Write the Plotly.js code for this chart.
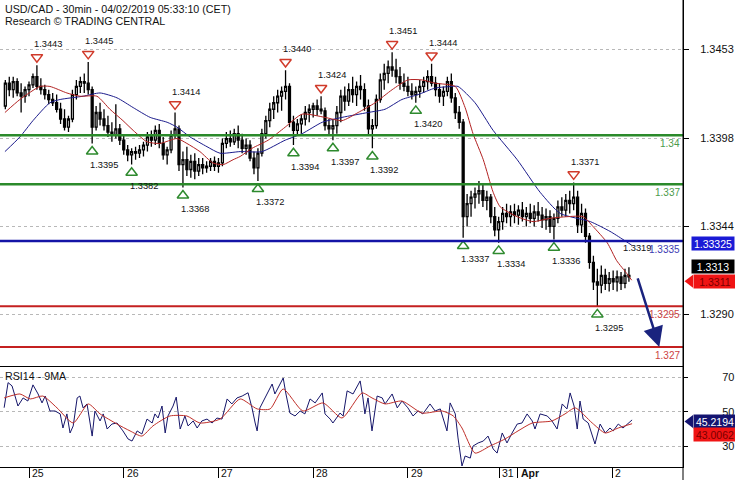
<!DOCTYPE html>
<html><head><meta charset="utf-8">
<script src="https://cdn.plot.ly/plotly-3.0.1.min.js"></script>
<style>html,body{margin:0;padding:0;background:#fff}#chart{width:735px;height:480px}</style>
</head><body><div id="chart"></div>
<script>
// x = trading hours from Mon 25 Mar 00:00 CET (1-hour candles)
const firstHour = -6;
const open = [
1.3418,1.3432,1.3428,1.3433,1.3426,1.3424,1.3428,1.3431,1.3436,1.3430,
1.3428,1.3425,1.3422,1.3420,1.3416,1.3410,1.3405,1.3410,1.3425,1.3430,
1.3433,1.3432,1.3428,1.3405,1.3414,1.3410,1.3406,1.3402,1.3400,1.3404,
1.3397,1.3391,1.3388,1.3390,1.3389,1.3391,1.3394,1.3399,1.3397,1.3403,
1.3395,1.3388,1.3391,1.3400,1.3404,1.3382,1.3385,1.3379,1.3384,1.3378,
1.3382,1.3380,1.3381,1.3384,1.3381,1.3383,1.3395,1.3398,1.3396,1.3401,
1.3397,1.3392,1.3394,1.3386,1.3380,1.3389,1.3401,1.3409,1.3416,1.3420,
1.3424,1.3427,1.3430,1.3408,1.3403,1.3407,1.3410,1.3414,1.3416,1.3418,
1.3416,1.3415,1.3406,1.3404,1.3406,1.3414,1.3424,1.3421,1.3428,1.3425,
1.3430,1.3428,1.3418,1.3404,1.3406,1.3422,1.3434,1.3438,1.3442,1.3440,
1.3436,1.3432,1.3430,1.3427,1.3425,1.3427,1.3430,1.3433,1.3436,1.3432,
1.3428,1.3424,1.3427,1.3433,1.3423,1.3414,1.3408,1.3350,1.3358,1.3362,
1.3364,1.3366,1.3360,1.3362,1.3350,1.3342,1.3347,1.3352,1.3350,1.3353,
1.3351,1.3354,1.3350,1.3352,1.3349,1.3353,1.3351,1.3348,1.3350,1.3344,
1.3349,1.3356,1.3354,1.3360,1.3358,1.3362,1.3345,1.3352,1.3338,1.3322,
1.3310,1.3308,1.3314,1.3309,1.3312,1.3310,1.3313,1.3309,1.3314];
const high = [
1.3434,1.3436,1.3436,1.3435,1.3432,1.3430,1.3433,1.3438,1.3443,1.3435,
1.3431,1.3428,1.3426,1.3425,1.3420,1.3416,1.3412,1.3428,1.3434,1.3436,
1.3438,1.3445,1.3430,1.3418,1.3420,1.3416,1.3412,1.3408,1.3419,1.3407,
1.3400,1.3394,1.3392,1.3393,1.3394,1.3396,1.3402,1.3403,1.3406,1.3407,
1.3399,1.3393,1.3403,1.3414,1.3406,1.3390,1.3393,1.3388,1.3389,1.3386,
1.3386,1.3384,1.3386,1.3387,1.3386,1.3398,1.3402,1.3403,1.3404,1.3406,
1.3401,1.3398,1.3397,1.3390,1.3392,1.3404,1.3412,1.3420,1.3424,1.3428,
1.3430,1.3440,1.3432,1.3412,1.3410,1.3413,1.3418,1.3419,1.3420,1.3422,
1.3424,1.3417,1.3410,1.3410,1.3418,1.3428,1.3430,1.3432,1.3436,1.3433,
1.3437,1.3432,1.3422,1.3410,1.3425,1.3438,1.3444,1.3446,1.3451,1.3447,
1.3442,1.3438,1.3436,1.3432,1.3430,1.3434,1.3436,1.3440,1.3444,1.3436,
1.3432,1.3430,1.3436,1.3438,1.3426,1.3418,1.3410,1.3364,1.3366,1.3368,
1.3372,1.3370,1.3366,1.3364,1.3356,1.3350,1.3356,1.3358,1.3357,1.3358,
1.3357,1.3359,1.3356,1.3358,1.3357,1.3359,1.3356,1.3355,1.3354,1.3352,
1.3360,1.3362,1.3364,1.3366,1.3371,1.3366,1.3358,1.3355,1.3340,1.3326,
1.3318,1.3320,1.3318,1.3316,1.3317,1.3317,1.3316,1.3318,1.3319];
const low = [
1.3416,1.3424,1.3423,1.3424,1.3414,1.3420,1.3424,1.3429,1.3428,1.3425,
1.3422,1.3419,1.3418,1.3414,1.3407,1.3403,1.3402,1.3408,1.3422,1.3426,
1.3426,1.3425,1.3395,1.3403,1.3406,1.3403,1.3399,1.3396,1.3398,1.3394,
1.3388,1.3384,1.3382,1.3385,1.3386,1.3387,1.3390,1.3393,1.3394,1.3392,
1.3385,1.3382,1.3389,1.3398,1.3378,1.3368,1.3375,1.3374,1.3373,1.3375,
1.3376,1.3377,1.3378,1.3378,1.3377,1.3381,1.3392,1.3393,1.3394,1.3392,
1.3389,1.3388,1.3384,1.3376,1.3372,1.3387,1.3398,1.3405,1.3410,1.3414,
1.3415,1.3422,1.3405,1.3394,1.3400,1.3401,1.3406,1.3408,1.3411,1.3412,
1.3413,1.3403,1.3400,1.3397,1.3401,1.3408,1.3415,1.3418,1.3420,1.3418,
1.3422,1.3415,1.3400,1.3392,1.3404,1.3420,1.3428,1.3432,1.3436,1.3432,
1.3428,1.3427,1.3424,1.3422,1.3420,1.3423,1.3426,1.3428,1.3430,1.3424,
1.3420,1.3418,1.3424,1.3420,1.3410,1.3404,1.3337,1.3344,1.3350,1.3355,
1.3358,1.3356,1.3354,1.3346,1.3338,1.3334,1.3342,1.3346,1.3344,1.3346,
1.3345,1.3347,1.3344,1.3346,1.3344,1.3347,1.3343,1.3342,1.3340,1.3336,
1.3346,1.3350,1.3350,1.3352,1.3354,1.3340,1.3340,1.3334,1.3318,1.3305,
1.3295,1.3303,1.3305,1.3304,1.3305,1.3304,1.3305,1.3306,1.3310];
const close = [
1.3432,1.3428,1.3433,1.3426,1.3424,1.3428,1.3431,1.3436,1.3430,1.3428,
1.3425,1.3422,1.3420,1.3416,1.3410,1.3405,1.3410,1.3425,1.3430,1.3433,
1.3432,1.3428,1.3405,1.3414,1.3410,1.3406,1.3402,1.3400,1.3404,1.3397,
1.3391,1.3388,1.3390,1.3389,1.3391,1.3394,1.3399,1.3397,1.3403,1.3395,
1.3388,1.3391,1.3400,1.3404,1.3382,1.3385,1.3379,1.3384,1.3378,1.3382,
1.3380,1.3381,1.3384,1.3381,1.3383,1.3395,1.3398,1.3396,1.3401,1.3397,
1.3392,1.3394,1.3386,1.3380,1.3389,1.3401,1.3409,1.3416,1.3420,1.3424,
1.3427,1.3430,1.3408,1.3403,1.3407,1.3410,1.3414,1.3416,1.3418,1.3416,
1.3415,1.3406,1.3404,1.3406,1.3414,1.3424,1.3421,1.3428,1.3425,1.3430,
1.3428,1.3418,1.3404,1.3406,1.3422,1.3434,1.3438,1.3442,1.3440,1.3436,
1.3432,1.3430,1.3427,1.3425,1.3427,1.3430,1.3433,1.3436,1.3432,1.3428,
1.3424,1.3427,1.3433,1.3423,1.3414,1.3408,1.3350,1.3358,1.3362,1.3364,
1.3366,1.3360,1.3362,1.3350,1.3342,1.3347,1.3352,1.3350,1.3353,1.3351,
1.3354,1.3350,1.3352,1.3349,1.3353,1.3351,1.3348,1.3350,1.3344,1.3349,
1.3356,1.3354,1.3360,1.3358,1.3362,1.3345,1.3352,1.3338,1.3322,1.3310,
1.3308,1.3314,1.3309,1.3312,1.3310,1.3313,1.3309,1.3314,1.3313];
const hours = open.map((_, i) => firstHour + i);

// moving averages on price
const redMAHours = [-6.1,-2.3,2.8,5.3,9.6,12.9,17.2,20.5,23.8,26.4,29.9,33.2,37.5,40.0,43.3,46.6,49.2,51.7,53.5,56.5,60.6,64.9,69.2,75.0,79.3,83.4,87.7,92.0,96.0,99.6,102.9,108.0,110.5,112.5,115.1,117.6,119.4,123.7,127.7,132.0,136.3,140.4,142.9,146.5,148.9,151.5,152.7];
const redMA = [1.3414,1.3422,1.3430,1.3430,1.3426,1.3424,1.3424,1.3416,1.3409,1.3403,1.3396,1.3395,1.3398,1.3395,1.3390,1.3383,1.3382,1.3385,1.3387,1.3392,1.3397,1.3405,1.3413,1.3411,1.3409,1.3414,1.3420,1.3428,1.3434,1.3434,1.3432,1.3430,1.3417,1.3401,1.3385,1.3365,1.3356,1.3350,1.3347,1.3349,1.3350,1.3350,1.3344,1.3334,1.3323,1.3315,1.3311];
const blueMAHours = [-6.1,-2.3,1.0,5.3,7.9,13.7,18.0,22.3,26.4,30.7,35.0,37.5,40.8,45.1,48.4,53.5,59.0,64.9,69.2,74.3,79.3,85.9,90.2,94.5,98.6,102.9,107.2,108.7,113.0,117.6,123.7,129.5,134.6,142.2,147.2,150.5,152.7];
const blueMA = [1.3390,1.3399,1.3409,1.3420,1.3422,1.3424,1.3426,1.3423,1.3417,1.3411,1.3408,1.3405,1.3399,1.3393,1.3389,1.3390,1.3390,1.3397,1.3401,1.3408,1.3411,1.3414,1.3416,1.3422,1.3425,1.3429,1.3430,1.3430,1.3420,1.3403,1.3385,1.3365,1.3352,1.3347,1.3341,1.3336,1.33325];

// RSI14 and its 9MA
const rsiHours = [-6.3,-5.3,-4.3,-3.5,-2.8,-1.5,-0.3,1.0,2.3,3.3,4.1,5.3,6.6,7.9,8.6,9.6,10.4,11.2,12.2,12.9,13.7,14.7,16.0,16.7,18.0,18.8,19.8,21.0,22.3,23.8,25.1,26.1,27.4,28.6,29.9,31.2,31.9,32.7,33.7,34.5,35.2,36.5,37.3,38.3,39.5,40.3,41.6,42.6,43.8,45.1,46.4,47.6,48.9,50.2,51.4,52.7,54.0,55.5,56.5,57.3,57.8,58.5,59.8,61.6,62.3,63.1,64.4,65.1,66.1,67.4,68.7,69.9,71.2,72.5,74.3,75.0,76.3,77.0,78.8,79.6,80.6,82.1,83.9,84.6,85.1,85.9,86.9,88.2,89.5,90.2,92.0,93.3,94.5,96.0,97.3,98.6,99.8,101.6,102.9,104.2,105.9,106.7,108.0,108.7,109.7,110.5,111.8,112.5,113.8,115.1,116.3,117.6,118.6,119.9,121.1,122.4,123.7,124.9,126.2,127.5,128.2,129.5,131.3,132.5,133.8,135.1,136.3,137.1,138.1,138.9,139.6,140.4,141.7,143.4,144.7,146.0,147.2,148.0,149.3,150.5,151.8,152.8];
const rsi = [52.3,66.9,65.0,59.1,53.3,58.0,56.2,65.6,60.3,55.1,59.1,50.4,50.4,48.7,40.5,48.7,37.6,41.7,58.0,59.1,52.2,54.5,35.8,50.4,44.6,48.7,39.9,42.8,43.4,38.8,34.1,32.9,38.8,37.0,45.7,43.4,48.7,46.3,53.3,37.6,47.5,53.3,58.5,39.9,47.5,41.7,44.6,40.5,44.6,45.7,43.4,46.3,45.7,57.4,54.5,58.0,59.1,61.0,52.2,43.4,38.8,52.2,58.0,66.1,60.3,63.8,69.6,60.3,49.2,47.5,50.4,48.7,57.4,55.1,60.9,48.7,45.7,43.4,49.2,47.5,62.1,60.3,67.9,58.0,48.7,58.0,38.8,59.1,58.0,54.5,60.3,52.2,56.2,52.2,47.5,50.4,48.7,54.5,50.4,51.6,38.8,55.1,48.7,34.7,18.4,24.2,23.0,30.0,31.8,32.9,35.8,28.3,25.9,37.6,31.8,37.6,42.8,43.4,48.7,44.6,39.9,48.7,47.5,44.6,39.9,54.5,51.6,60.9,53.3,39.9,56.2,45.7,43.4,31.2,42.8,37.6,40.5,38.8,42.8,40.5,43.4,45.2];
const rsiMAHours = [-6.3,-2.3,0.3,3.5,7.1,11.2,15.0,18.0,22.3,25.6,28.6,31.4,35.7,40.0,43.3,48.4,53.5,57.8,61.1,64.4,69.4,74.5,79.3,84.4,86.9,90.2,94.5,99.6,104.7,107.5,109.7,113.0,116.8,120.6,123.9,127.5,132.5,135.8,138.4,142.7,146.0,149.3,152.8];
const rsiMA = [58.0,60.3,57.4,59.1,52.2,43.4,54.5,48.7,42.8,38.8,35.8,41.7,47.5,47.5,43.4,45.7,57.4,51.6,51.6,63.2,50.4,55.1,46.3,60.9,58.0,54.5,56.2,49.2,50.4,47.5,40.5,25.9,30.0,34.1,38.8,43.4,44.6,48.7,52.2,43.4,37.6,40.5,43.0];

// swing points
const pivotHighHours = [2,15,37,65,74,92,102,138];
const pivotHighs = [1.3443,1.3445,1.3414,1.3440,1.3424,1.3451,1.3444,1.3371];
const pivotLowHours = [16,26,39,58,67,77,87,98,110,119,133,144];
const pivotLows = [1.3395,1.3382,1.3368,1.3372,1.3394,1.3397,1.3392,1.3420,1.3337,1.3334,1.3336,1.3295];

// key levels
const greenLevels = [1.34, 1.337];
const blueLevels = [1.3335];
const redLevels = [1.3295, 1.327];
const target = 1.327;

// axes ticks
const priceTicks = [1.3453, 1.3398, 1.3344, 1.3290];
const rsiTicks = [30, 50, 70];
const dayTicks = [0, 24, 48, 72, 96, 119.1, 123.85, 147.8];
const dayLabels = ['25', '26', '27', '28', '29', '31', '<b>Apr</b>', '2'];

// last values (tags)
const lastPrice = 1.3313, lastRedMA = 1.3311, lastBlueMA = 1.33325;
const lastRSI = 45.2194, lastRSIMA = 43.0062;
const noteText = '1.3319';

// ---------- layout constants ----------
const W = 735, H = 480, M = {l: 0, r: 52, t: 0, b: 13};
const plotW = W - M.l - M.r, plotH = H - M.t - M.b;
const xRange = [-7.35, 165.7];
const yRange = [1.32583, 1.34831];
const rsiRange = [17.8, 76];
const mainDom = [101 / plotH, 1];
const rsiDom = [0, 100 / plotH];
const FONT = 'Liberation Sans, Arial, sans-serif';

const GREEN = '#2b8a2b', BLUE = '#1414a6', RED = '#c42020';
const priceToPaper = p => mainDom[0] + (p - yRange[0]) / (yRange[1] - yRange[0]) * (mainDom[1] - mainDom[0]);
const rsiToPaper = v => rsiDom[0] + (v - rsiRange[0]) / (rsiRange[1] - rsiRange[0]) * (rsiDom[1] - rsiDom[0]);
const pxY = 1 / plotH;   // one pixel in paper y
const pxX = 1 / plotW;   // one pixel in paper x

const traces = [
  {type: 'candlestick', x: hours, open, high, low, close, xaxis: 'x', yaxis: 'y',
   increasing: {line: {color: '#000', width: 1.3}, fillcolor: '#ffffff'},
   decreasing: {line: {color: '#000', width: 1.3}, fillcolor: '#000000'},
   whiskerwidth: 0, hoverinfo: 'skip'},
  {type: 'scatter', mode: 'lines', x: blueMAHours, y: blueMA, xaxis: 'x', yaxis: 'y',
   line: {color: '#1c1c8c', width: 1, shape: 'spline', smoothing: 0.6}, hoverinfo: 'skip'},
  {type: 'scatter', mode: 'lines', x: redMAHours, y: redMA, xaxis: 'x', yaxis: 'y',
   line: {color: '#b22222', width: 1, shape: 'spline', smoothing: 0.6}, hoverinfo: 'skip'},
  {type: 'scatter', mode: 'markers', x: pivotHighHours, y: pivotHighs.map(v => v + 0.0005), xaxis: 'x', yaxis: 'y',
   marker: {symbol: 'triangle-down-open', size: 10, color: '#d03a2a', line: {width: 1.5}}, hoverinfo: 'skip'},
  {type: 'scatter', mode: 'markers', x: pivotLowHours, y: pivotLows.map(v => v - 0.0005), xaxis: 'x', yaxis: 'y',
   marker: {symbol: 'triangle-up-open', size: 10, color: '#2e8a2e', line: {width: 1.5}}, hoverinfo: 'skip'},
  {type: 'scatter', mode: 'lines', x: rsiHours, y: rsi, xaxis: 'x2', yaxis: 'y2',
   line: {color: '#16166a', width: 1}, hoverinfo: 'skip'},
  {type: 'scatter', mode: 'lines', x: rsiMAHours, y: rsiMA, xaxis: 'x2', yaxis: 'y2',
   line: {color: '#c0302a', width: 1, shape: 'spline', smoothing: 0.6}, hoverinfo: 'skip'}
];

const shapes = [];
const levelSets = [[greenLevels, GREEN, 2.5], [blueLevels, BLUE, 2.5], [redLevels, RED, 2]];
levelSets.forEach(([vals, col, w]) => vals.forEach(v => shapes.push({
  type: 'line', xref: 'paper', x0: 0, x1: 1, yref: 'y', y0: v, y1: v, line: {color: col, width: w}, layer: 'above'})));
// right axis line continues to the bottom edge
shapes.push({type: 'line', xref: 'paper', x0: 1, x1: 1, yref: 'paper', y0: -M.b / plotH, y1: 1, line: {color: '#000', width: 1}});

// price tags
const annotations = [];
function tag(centerPaper, text, bg, fg, left, pointer) {
  annotations.push({xref: 'paper', x: 1 + left * pxX, xanchor: 'left', yref: 'paper', y: centerPaper, yanchor: 'middle',
    text, showarrow: false, bgcolor: bg, borderpad: 0, width: 42, height: 13, align: 'center',
    font: {family: FONT, size: 10.5, color: fg}});
  if (pointer) {
    const xb = 1 + left * pxX, xt = 1 + 1.5 * pxX, h = 6.5 * pxY;
    shapes.push({type: 'path', xref: 'paper', yref: 'paper', fillcolor: bg, line: {width: 0},
      path: `M${xb},${centerPaper + h} L${xt},${centerPaper} L${xb},${centerPaper - h} Z`});
  }
}
tag(priceToPaper(lastBlueMA) + 2 * pxY, lastBlueMA.toFixed(5), '#1a1ad6', '#ffffff', 8, false);
tag(priceToPaper(lastPrice) + 10 * pxY, lastPrice.toFixed(4), '#000000', '#ffffff', 8, false);
tag(priceToPaper(lastRedMA) - 1 * pxY, lastRedMA.toFixed(4), '#f01414', '#7a0000', 10, true);
tag(rsiToPaper(lastRSI) - 1.5 * pxY, lastRSI.toFixed(4), '#141470', '#ffffff', 10, true);
tag(rsiToPaper(lastRSIMA) - 10.5 * pxY, lastRSIMA.toFixed(4), '#f01414', '#7a0000', 10, false);

// titles
annotations.push({xref: 'paper', yref: 'paper', x: 3 * pxX, y: 1 - 1 * pxY, xanchor: 'left', yanchor: 'top', showarrow: false,
  text: 'USD/CAD - 30min - 04/02/2019 05:33:10 (CET)', font: {family: FONT, size: 10.7, color: '#111'}});
annotations.push({xref: 'paper', yref: 'paper', x: 3 * pxX, y: 1 - 13 * pxY, xanchor: 'left', yanchor: 'top', showarrow: false,
  text: 'Research © TRADING CENTRAL', font: {family: FONT, size: 10.7, color: '#111'}});
annotations.push({xref: 'paper', yref: 'paper', x: 3 * pxX, y: rsiDom[1] - 1 * pxY, xanchor: 'left', yanchor: 'top', showarrow: false,
  text: 'RSI14 - 9MA', font: {family: FONT, size: 10.7, color: '#111'}});

// level labels
levelSets.forEach(([vals, col]) => vals.forEach(v => annotations.push({
  xref: 'paper', x: 1, xshift: -1, xanchor: 'right', yref: 'y', y: v, yanchor: 'top', yshift: -1, showarrow: false,
  text: String(v), font: {family: FONT, size: 10, color: col}, opacity: 0.85})));
annotations.push({xref: 'x', x: hours[hours.length - 1] - 1, xanchor: 'left', xshift: -4, yref: 'y', y: blueLevels[0], yanchor: 'top', yshift: 0,
  showarrow: false, text: noteText, font: {family: FONT, size: 9.3, color: '#111'}});

// pivot labels
pivotHighHours.forEach((h, i) => annotations.push({xref: 'x', yref: 'y', x: h, y: pivotHighs[i], xanchor: 'left', xshift: -5,
  yanchor: 'middle', yshift: 21, showarrow: false, text: pivotHighs[i].toFixed(4), font: {family: FONT, size: 9.3, color: '#111'}}));
pivotLowHours.forEach((h, i) => annotations.push({xref: 'x', yref: 'y', x: h, y: pivotLows[i], xanchor: 'left', xshift: -4,
  yanchor: 'middle', yshift: -21.5, showarrow: false, text: pivotLows[i].toFixed(4), font: {family: FONT, size: 9.3, color: '#111'}}));

// day labels on the time axis
dayTicks.forEach((t, i) => annotations.push({xref: 'x2', x: t, xanchor: 'left', xshift: 1, yref: 'paper', y: -6 * pxY,
  yanchor: 'middle', showarrow: false, text: dayLabels[i], font: {family: FONT, size: 10.5, color: '#111'}}));

// forecast arrow from the last close to the target level
const lastHour = hours[hours.length - 1];
annotations.push({xref: 'x', yref: 'y', axref: 'x', ayref: 'y', x: lastHour + 7.7, y: target, ax: lastHour + 2.1, ay: close[close.length - 1],
  showarrow: true, arrowhead: 2, arrowsize: 1.6, arrowwidth: 2.5, arrowcolor: '#1a237e', standoff: 0, text: ''});

const layout = {
  width: W, height: H, margin: M, paper_bgcolor: '#fff', plot_bgcolor: '#fff', showlegend: false, hovermode: false,
  font: {family: FONT, size: 11, color: '#111'},
  xaxis: {domain: [0, 1], anchor: 'y', range: xRange, showticklabels: false, ticks: '', showgrid: false, zeroline: false,
          showline: true, linecolor: '#000', linewidth: 1, rangeslider: {visible: false}, fixedrange: true},
  yaxis: {domain: mainDom, anchor: 'x', side: 'right', range: yRange, tickvals: priceTicks, ticktext: priceTicks.map(v => v.toFixed(4)),
          ticks: 'outside', ticklen: 5, tickcolor: '#000', showline: true, linecolor: '#000', linewidth: 1,
          showgrid: true, gridcolor: '#b8b8b8', griddash: 'dot', gridwidth: 1, zeroline: false, ticklabelstandoff: 9,
          tickfont: {family: FONT, size: 11, color: '#111'}, fixedrange: true},
  xaxis2: {domain: [0, 1], anchor: 'y2', range: xRange, tickvals: dayTicks, ticks: 'outside', ticklen: 10, tickcolor: '#000',
           showticklabels: false, showgrid: false, zeroline: false, showline: true, mirror: true, linecolor: '#000', linewidth: 1, fixedrange: true},
  yaxis2: {domain: rsiDom, anchor: 'x2', side: 'right', range: rsiRange, tickvals: rsiTicks, ticktext: rsiTicks.map(String),
           ticks: 'outside', ticklen: 4, tickcolor: '#000', showline: true, linecolor: '#000', linewidth: 1,
           showgrid: true, gridcolor: '#b8b8b8', griddash: 'dot', gridwidth: 1, zeroline: false, ticklabelstandoff: 32,
           tickfont: {family: FONT, size: 11, color: '#111'}, fixedrange: true},
  shapes, annotations
};

Plotly.newPlot('chart', traces, layout, {staticPlot: true, displayModeBar: false});
</script></body></html>
